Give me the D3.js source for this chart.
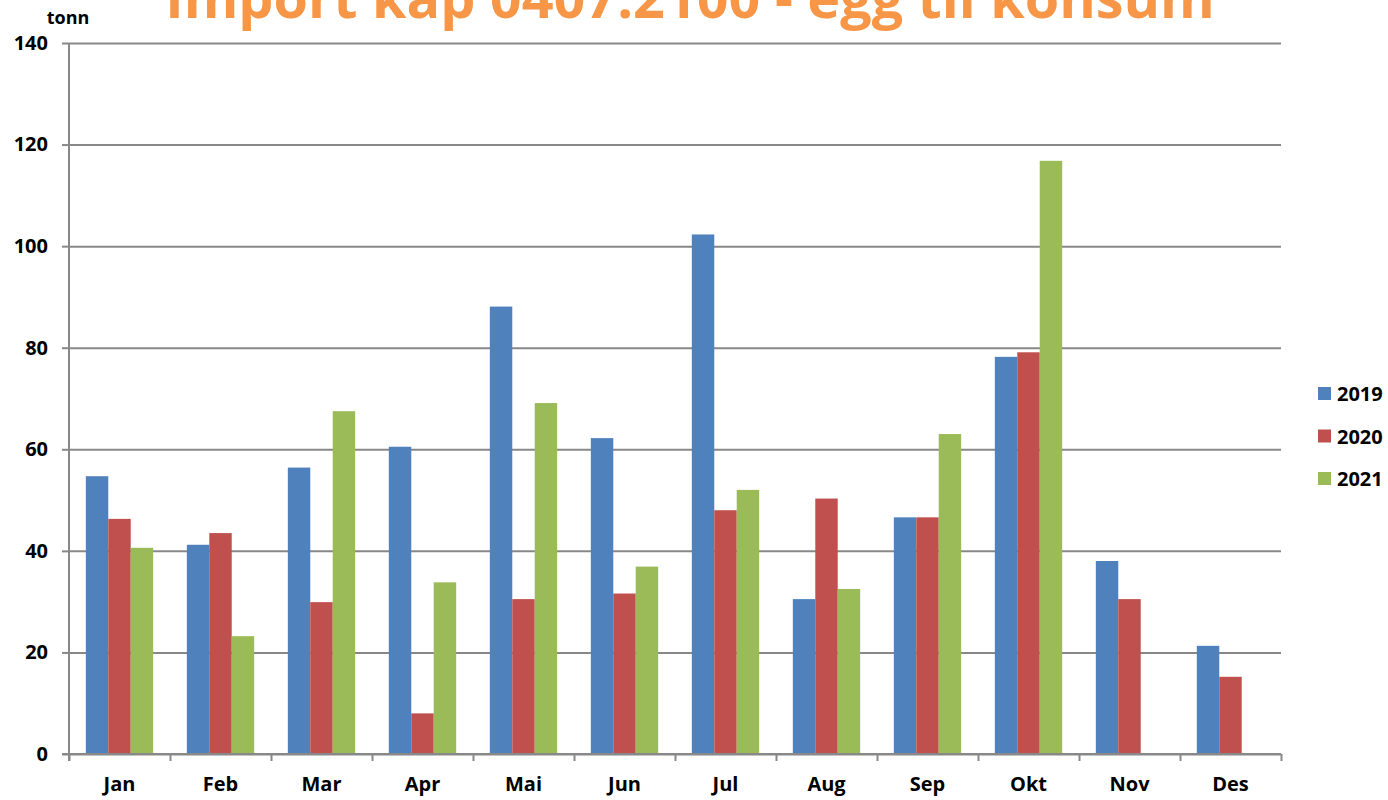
<!DOCTYPE html>
<html>
<head>
<meta charset="utf-8">
<script src="https://cdn.jsdelivr.net/npm/d3@7"></script>
<style>
  body { margin: 0; background: #fff; }
  svg text { font-family: "Open Sans", "Noto Sans", sans-serif; font-weight: bold; }
</style>
</head>
<body>
<svg id="chart" width="1388" height="800"></svg>
<script>
// ---------------- data ----------------
var months = ["Jan", "Feb", "Mar", "Apr", "Mai", "Jun", "Jul", "Aug", "Sep", "Okt", "Nov", "Des"];
var years = ["2019", "2020", "2021"];
var v2019 = [54.7, 41.2, 56.4, 60.5, 88.1, 62.2, 102.3, 30.5, 46.6, 78.2, 38.0, 21.3];
var v2020 = [46.3, 43.5, 29.9, 8.0, 30.5, 31.6, 48.0, 50.3, 46.6, 79.1, 30.5, 15.2];
var v2021 = [40.6, 23.2, 67.5, 33.8, 69.1, 36.9, 52.0, 32.5, 63.0, 116.8, null, null];
var yTicks = [0, 20, 40, 60, 80, 100, 120, 140];
var colors = ["#4F81BD", "#C0504D", "#9BBB59"];

var series = [v2019, v2020, v2021];
var rows = months.map(function(m, i){
    return { month: m, vals: years.map(function(y, j){ return { year: y, value: series[j][i] }; }) };
});

// ---------------- layout ----------------
var svg = d3.select('#chart');
var plotLeft = 69, plotRight = 1281, plotTop = 43, plotBottom = 754;
var axisColor = '#888888';

var x0 = d3.scaleBand().domain(months).range([plotLeft, plotRight]).padding(0);
var x1 = d3.scaleBand().domain(years).range([0, x0.bandwidth()]).paddingInner(0).paddingOuter(0.75);
var y = d3.scaleLinear().domain([0, 140]).range([plotBottom, plotTop]);
var xEdge = d3.scaleLinear().domain([0, months.length]).range([plotLeft, plotRight]);

// gridlines
svg.append('g')
    .attr('transform', 'translate(' + plotLeft + ',0)')
    .call(d3.axisLeft(y).tickValues(yTicks).tickSize(-(plotRight - plotLeft)).tickFormat(''))
    .call(function(g){
        g.select('.domain').remove();
        g.selectAll('line').attr('stroke', axisColor).attr('stroke-width', 2);
    });

// bars
var groups = svg.append('g').selectAll('g')
    .data(rows)
    .enter().append('g')
    .attr('transform', function(d){ return 'translate(' + x0(d.month) + ',0)'; });

groups.selectAll('rect')
    .data(function(d){ return d.vals.filter(function(v){ return v.value != null; }); })
    .enter().append('rect')
    .attr('x', function(d){ return x1(d.year); })
    .attr('width', x1.bandwidth())
    .attr('y', function(d){ return y(d.value); })
    .attr('height', function(d){ return y(0) - y(d.value); })
    .attr('fill', function(d){ return colors[years.indexOf(d.year)]; });

// y axis (labels + outer ticks)
svg.append('g')
    .attr('transform', 'translate(' + plotLeft + ',0)')
    .call(d3.axisLeft(y).tickValues(yTicks).tickSize(7).tickPadding(14))
    .call(function(g){
        g.select('.domain').attr('stroke', axisColor).attr('stroke-width', 2)
            .attr('d', 'M0,' + plotTop + 'V' + (plotBottom + 7));
        g.selectAll('line').attr('stroke', axisColor).attr('stroke-width', 2);
        g.selectAll('text').attr('fill', '#000').style('font-size', '20px');
    });

// x axis: boundary ticks
svg.append('g')
    .attr('transform', 'translate(0,' + plotBottom + ')')
    .call(d3.axisBottom(xEdge).tickValues(d3.range(months.length + 1)).tickSize(7).tickFormat(''))
    .call(function(g){
        g.select('.domain').attr('stroke', axisColor).attr('stroke-width', 2)
            .attr('d', 'M' + (plotLeft - 7) + ',0H' + plotRight);
        g.selectAll('line').attr('stroke', axisColor).attr('stroke-width', 2);
    });

// x axis: month labels
svg.append('g')
    .attr('transform', 'translate(0,' + plotBottom + ')')
    .call(d3.axisBottom(x0).tickSize(0).tickPadding(23))
    .call(function(g){
        g.select('.domain').remove();
        g.selectAll('text').attr('fill', '#000').style('font-size', '20px');
    });

// unit label
svg.append('text')
    .text('tonn')
    .attr('x', 68)
    .attr('y', 24)
    .attr('text-anchor', 'middle')
    .style('font-size', '18px')
    .attr('fill', '#000');

// title (cut at the top, as in the original)
var title = svg.append('text')
    .text('Import kap 0407.2100 - egg til konsum')
    .attr('x', 690)
    .attr('y', 18)
    .attr('text-anchor', 'middle')
    .attr('fill', '#F79646')
    .style('font-size', '48px');
var tw = title.node().getComputedTextLength();
title.style('font-size', (48 * 1050 / tw) + 'px');

// legend
var legend = svg.append('g').selectAll('g')
    .data(years)
    .enter().append('g')
    .attr('transform', function(d, i){ return 'translate(1318,' + (387 + i * 42.5) + ')'; });

legend.append('rect')
    .attr('width', 13)
    .attr('height', 13)
    .attr('fill', function(d, i){ return colors[i]; });

legend.append('text')
    .text(function(d){ return d; })
    .attr('x', 19)
    .attr('y', 14)
    .style('font-size', '20px')
    .attr('fill', '#000');
</script>
</body>
</html>
